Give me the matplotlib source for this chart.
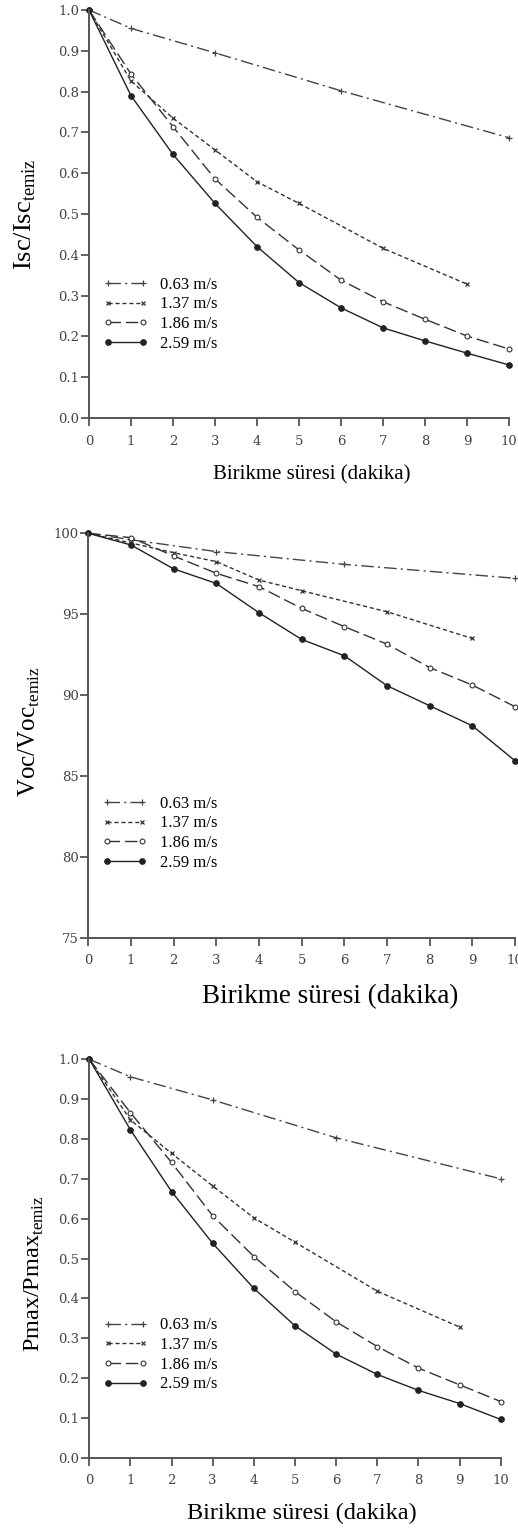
# Soiling effect on Isc, Voc and Pmax vs. deposition time for four wind speeds
import numpy as np
import matplotlib.pyplot as plt

plt.rcParams['font.family'] = ['Liberation Serif', 'DejaVu Serif']
plt.rcParams['mathtext.fontset'] = 'custom'
plt.rcParams['mathtext.rm'] = 'Liberation Serif'

speeds = ['0.63 m/s', '1.37 m/s', '1.86 m/s', '2.59 m/s']

# x positions (minutes) where each series has a marker
x_063 = [0, 1, 3, 6, 10]
x_137 = [0, 1, 2, 3, 4, 5, 7, 9]
x_full = [0, 1, 2, 3, 4, 5, 6, 7, 8, 9, 10]

isc_063 = [1.0, 0.955, 0.895, 0.802, 0.687]
isc_137 = [1.0, 0.826, 0.735, 0.657, 0.579, 0.526, 0.416, 0.328]
isc_186 = [1.0, 0.843, 0.714, 0.586, 0.492, 0.412, 0.338, 0.285, 0.242, 0.201, 0.169]
isc_259 = [1.0, 0.79, 0.646, 0.526, 0.42, 0.332, 0.27, 0.221, 0.189, 0.159, 0.130]

voc_063 = [100, 99.6, 98.87, 98.08, 97.22]
voc_137 = [100, 99.4, 98.8, 98.25, 97.11, 96.45, 95.15, 93.5]
voc_186 = [100, 99.73, 98.6, 97.53, 96.7, 95.36, 94.23, 93.15, 91.7, 90.62, 89.28]
voc_259 = [100, 99.28, 97.8, 96.9, 95.09, 93.44, 92.43, 90.58, 89.34, 88.1, 85.94]

pmax_063 = [1.0, 0.956, 0.898, 0.803, 0.700]
pmax_137 = [1.0, 0.848, 0.764, 0.682, 0.602, 0.541, 0.418, 0.328]
pmax_186 = [1.0, 0.866, 0.741, 0.607, 0.505, 0.417, 0.341, 0.279, 0.225, 0.183, 0.141]
pmax_259 = [1.0, 0.823, 0.668, 0.538, 0.425, 0.331, 0.260, 0.209, 0.169, 0.136, 0.096]

W, H = 518, 1531
fig = plt.figure(figsize=(W / 100, H / 100), dpi=100)


def px_axes(left, right, top, bottom):
    # axes from pixel positions (top-left origin)
    return fig.add_axes([left / W, 1 - bottom / H, (right - left) / W, (bottom - top) / H])


styles = [
    dict(ls=(0, (9, 3, 1.5, 3)), marker='+', ms=4, mew=0.9, color='#444'),
    dict(ls=(0, (3, 2)), marker='x', ms=3.5, mew=0.9, color='#333'),
    dict(ls=(0, (9, 3.5)), marker='o', ms=3.5, mew=0.8, mfc='white', color='#333'),
    dict(ls='-', marker='o', ms=4, mew=0.8, color='#222'),
]


def draw_panel(ax, series, ylim, yticks, yfmt, leg_y):
    xs = [x_063, x_137, x_full, x_full]
    for i, (x, y) in enumerate(zip(xs, series)):
        ax.plot(x, y, lw=1.0, label=speeds[i], clip_on=False, **styles[i])
    ax.set_xlim(0, 10)
    ax.set_ylim(*ylim)
    ax.set_xticks(range(11))
    ax.set_yticks(yticks)
    ax.set_yticklabels([yfmt.format(v) for v in yticks])
    for s in ['top', 'right']:
        ax.spines[s].set_visible(False)
    for s in ['left', 'bottom']:
        ax.spines[s].set_color('#555')
        ax.spines[s].set_linewidth(1.4)
    ax.tick_params(axis='y', length=6, width=1.3, color='#555', pad=1,
                   labelsize=9.5, labelcolor='#444', labelfontfamily='DejaVu Serif')
    ax.tick_params(axis='x', length=6, width=1.3, color='#555', pad=6,
                   labelsize=9.5, labelcolor='#444', labelfontfamily='DejaVu Serif')
    ax.legend(loc='upper left', bbox_to_anchor=(0.033, leg_y), frameon=False,
              fontsize=12, handlelength=2.7, handletextpad=0.75, labelspacing=0.22,
              borderpad=0, borderaxespad=0, numpoints=2)


ax1 = px_axes(89, 509, 10, 418)
draw_panel(ax1, [isc_063, isc_137, isc_186, isc_259], (0, 1.0),
           np.arange(0, 1.01, 0.1), '{:.1f}', 0.346)

ax2 = px_axes(88.3, 515, 533.3, 937.7)
draw_panel(ax2, [voc_063, voc_137, voc_186, voc_259], (75, 100),
           np.arange(75, 101, 5), '{:.0f}', 0.351)

ax3 = px_axes(89.3, 500.7, 1059.3, 1457.7)
draw_panel(ax3, [pmax_063, pmax_137, pmax_186, pmax_259], (0, 1.0),
           np.arange(0, 1.01, 0.1), '{:.1f}', 0.352)

# axis titles placed by pixel position
fig.text(25 / W, 1 - 214 / H, r'Isc/Isc$_{\mathrm{temiz}}$', rotation=90,
         ha='center', va='center', fontsize=19)
fig.text(29 / W, 1 - 732 / H, r'Voc/Voc$_{\mathrm{temiz}}$', rotation=90,
         ha='center', va='center', fontsize=18)
fig.text(34 / W, 1 - 1274 / H, r'Pmax/Pmax$_{\mathrm{temiz}}$', rotation=90,
         ha='center', va='center', fontsize=17.5)

fig.text(312 / W, 1 - 475 / H, 'Birikme süresi (dakika)', ha='center', va='center', fontsize=15)
fig.text(330 / W, 1 - 997 / H, 'Birikme süresi (dakika)', ha='center', va='center', fontsize=19.5)
fig.text(302 / W, 1 - 1513 / H, 'Birikme süresi (dakika)', ha='center', va='center', fontsize=17.5)

plt.savefig('out.png', dpi=100)
